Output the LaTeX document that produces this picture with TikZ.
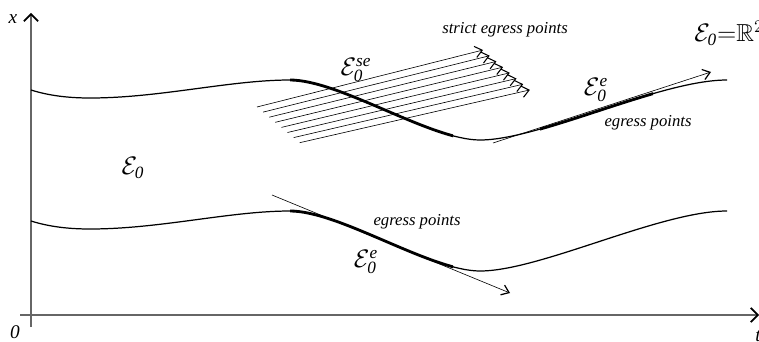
\documentclass[tikz,border=0pt]{standalone}
\usepackage{amsmath,amssymb}
\usepackage{fontspec}
\setmainfont{Liberation Serif}
\usetikzlibrary{arrows.meta}

% one boundary curve of E_0, the lower one is the same shifted down
\newcommand\bndcurve{(31,90) .. controls (50,96) and (70,98) .. (90,98)
  .. controls (160,98) and (230,80) .. (290,80)
  .. controls (340,80) and (430,140) .. (480,140)
  .. controls (540,140) and (660,80) .. (727,80)}

\begin{document}
\begin{tikzpicture}[x=0.02cm, y=-0.02cm,
  axisline/.style={draw=black!60, line width=0.6pt, -{Straight Barb[length=4pt,width=8pt,line width=1pt,color=black]}},
  bound/.style={line width=0.7pt},
  egress/.style={line width=1.6pt},
  tanarrow/.style={line width=0.35pt, -{Straight Barb[length=4pt,width=6pt,line width=0.7pt]}},
  hatch/.style={line width=0.35pt, -{Straight Barb[length=4pt,width=6.5pt,line width=0.6pt]}},
  lbl/.style={font=\fontsize{9.5}{11}\selectfont\itshape},
  axlbl/.style={font=\fontsize{11}{13}\selectfont\itshape, inner sep=0pt},
  setlbl/.style={font=\fontsize{14}{16}\selectfont, inner sep=0pt}
]
  \useasboundingbox (0,0) rectangle (759,341);

  % axes
  \coordinate (ox) at (31,327);
  \coordinate (xtip) at (31,13);
  \coordinate (ot) at (20,315);
  \coordinate (ttip) at (759,315);
  \draw[axisline] (ox) -- (xtip);
  \draw[axisline] (ot) -- (ttip);
  \node[axlbl] (xlab) at (13,19) {x};
  \node[axlbl] (olab) at (15,332) {0};
  \node[axlbl] (tlab) at (758,336) {t};

  % the two boundaries
  \draw[bound] \bndcurve;
  \draw[bound, shift={(0,131)}] \bndcurve;

  % thick parts
  \begin{scope}
    \clip (290,0) rectangle (453,341);
    \draw[egress] \bndcurve;
    \draw[egress, shift={(0,131)}] \bndcurve;
  \end{scope}
  \begin{scope}
    \clip (540,0) rectangle (653,170);
    \draw[egress] \bndcurve;
  \end{scope}

  % strict egress: parallel arrows
  \foreach \i in {0,...,7}{
    \coordinate (s\i) at (257+6.1*\i,107+5.1*\i);
    \coordinate (e\i) at (483+6.7*\i,50+5.7*\i);
    \draw[hatch] (s\i) -- (e\i);
  }

  % tangent arrows
  \coordinate (ua) at (493,143);
  \coordinate (ub) at (711,72);
  \draw[tanarrow] (ua) -- (ub);
  \coordinate (la) at (272,195);
  \coordinate (lb) at (510,293);
  \draw[tanarrow] (la) -- (lb);

  % labels
  \node[lbl] (strict) at (505,30) {strict egress points};
  \node[lbl] (egU) at (648,123) {egress points};
  \node[lbl] (egL) at (417,222) {egress points};
  \node[setlbl] (setE0) at (133,168) {$\mathcal{E}_{\textit{0}}$};
  \node[setlbl] (setSE) at (356,70) {$\mathcal{E}_{\textit{0}}^{\textit{se}}$};
  \node[setlbl] (setEU) at (596,90) {$\mathcal{E}_{\textit{0}}^{\textit{e}}$};
  \node[setlbl] (setEL) at (366,262) {$\mathcal{E}_{\textit{0}}^{\textit{e}}$};
  \node[setlbl, anchor=west] (setR2) at (694,33) {$\mathcal{E}_{\textit{0}}{=}\mathbb{R}^2$};
\end{tikzpicture}
\end{document}
